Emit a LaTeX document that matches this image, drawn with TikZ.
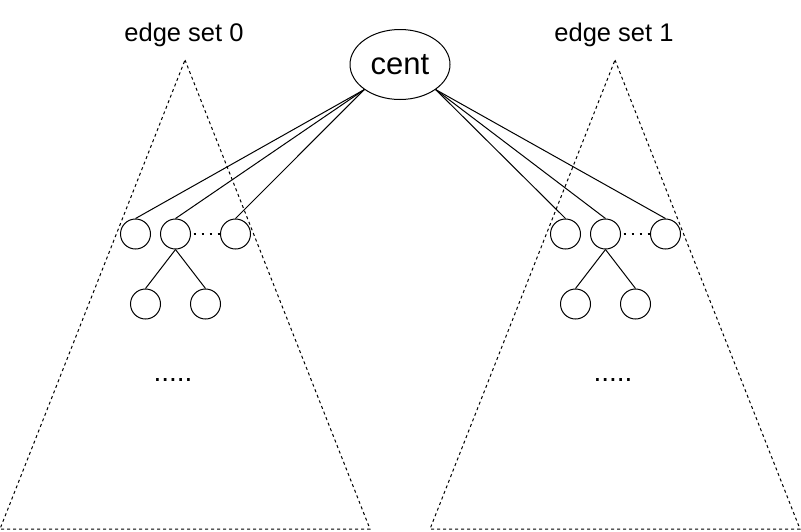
\documentclass[tikz,border=0pt]{standalone}
\usepackage{fontspec}
\setmainfont{Liberation Sans}
\usetikzlibrary{shapes}

\begin{document}
\begin{tikzpicture}[x=1pt, y=-1pt, line width=1pt, every node/.style={inner sep=0pt},
		vert/.style={circle, draw, minimum size=30pt},
		tri/.style={dash pattern=on 3pt off 3pt},
		setname/.style={anchor=base, font=\fontsize{25.5}{25.5}\selectfont},
		more/.style={anchor=base, font=\fontsize{28}{28}\selectfont},
		gap/.style={line width=1.6pt, dash pattern=on 2pt off 6pt, shorten <=2.5pt}]
		\useasboundingbox (0,0) rectangle (801,531);
		
		% the two edge sets
		\draw[tri] (185,60) -- (370,529) -- (0,529) -- cycle;
		\draw[tri] (615,60) -- (800,529) -- (430,529) -- cycle;
		\node[setname] (s0) at (184, 41.5) {edge set 0};
		\node[setname] (s1) at (614, 41.5) {edge set 1};
		
		\node[ellipse, draw, fill=white, minimum width=100pt, minimum height=70pt, font=\fontsize{31}{31}\selectfont] (cent) at (400, 64.5) {cent};
		
		\node[vert] (a0) at (135.5, 234) {};
		\node[vert] (a1) at (175.5, 234) {};
		\node[vert] (a2) at (235.5, 234) {};
		\node[vert] (a3) at (145.5, 304) {};
		\node[vert] (a4) at (205.5, 304) {};
		\node[more] (da) at (173, 381) {.....};
		
		\node[vert] (b0) at (565.5, 234) {};
		\node[vert] (b1) at (605.5, 234) {};
		\node[vert] (b2) at (665.5, 234) {};
		\node[vert] (b3) at (575.5, 304) {};
		\node[vert] (b4) at (635.5, 304) {};
		\node[more] (db) at (613, 381) {.....};
		
		\path (cent.south west) edge (a0.north)
			(cent.south west) edge (a1.north)
			(cent.south west) edge (a2.north)
			(a1.south) edge (a3.north)
			(a1.south) edge (a4.north)
			(cent.south east) edge (b0.north)
			(cent.south east) edge (b1.north)
			(cent.south east) edge (b2.north)
			(b1.south) edge (b3.north)
			(b1.south) edge (b4.north);
		\draw[gap] (a1) -- (a2);
		\draw[gap] (b1) -- (b2);
	\end{tikzpicture}
\end{document}
